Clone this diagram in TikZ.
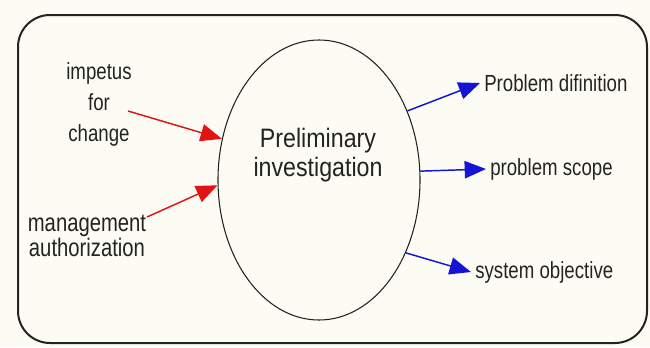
\documentclass[tikz,border=0pt]{standalone}
\usepackage{fontspec}
\setmainfont{Liberation Sans}[FakeStretch=0.8]
\newfontfamily\bigfont{Liberation Sans}[FakeStretch=0.87]
\usetikzlibrary{arrows.meta,shapes.geometric}
\definecolor{paper}{RGB}{253,252,244}
\definecolor{ink}{RGB}{35,35,35}
\definecolor{inred}{RGB}{225,20,20}
\definecolor{outblue}{RGB}{20,20,215}
\tikzset{
  lbl/.style={text=ink, inner sep=3pt, font=\fontsize{17.5}{23.25}\selectfont},
  infl/.style={->, inred, line width=1.1pt},
  outfl/.style={->, outblue, line width=1.1pt},
}

\begin{document}
\begin{tikzpicture}[x=0.75pt, y=-0.75pt, >={Triangle[length=16pt,width=13pt]}]
        \fill[paper] (0,0) rectangle (650,347);
        \draw[ink, line width=1.5pt, rounded corners=24pt] (18,15) rectangle (647,343);
        % central process
        \node[draw=ink, ellipse, line width=0.8pt, minimum width=151.5pt, minimum height=210pt, inner sep=0pt] (inv) at (319,180) {};
        \node[text=ink, align=center, font=\bigfont\fontsize{20}{22}\selectfont] (invtxt) at (318,155) {Preliminary\\investigation};
        % inputs
        \node[lbl, align=center] (imp) at (99,104) {impetus\\for\\change};
        \node[lbl, align=center, font=\fontsize{19}{17.5}\selectfont] (mgmt) at (87,236) {management\\authorization};
        \coordinate (impS) at (128,111);
        \coordinate (mgmtS) at (147,217);
        \draw[infl] (impS) -- (inv.157);
        \draw[infl] (mgmtS) -- (inv.183);
        % outputs
        \node[lbl, anchor=west] (pdef) at (480,83) {Problem difinition};
        \node[lbl, anchor=west] (pscope) at (486,169) {problem scope};
        \node[lbl, anchor=west] (sobj) at (471,272) {system objective};
        \draw[outfl] (inv.38) -- (pdef.west);
        \draw[outfl] (inv.5) -- (pscope.west);
        \draw[outfl] (inv.-40) -- (sobj.west);
\end{tikzpicture}
\end{document}
